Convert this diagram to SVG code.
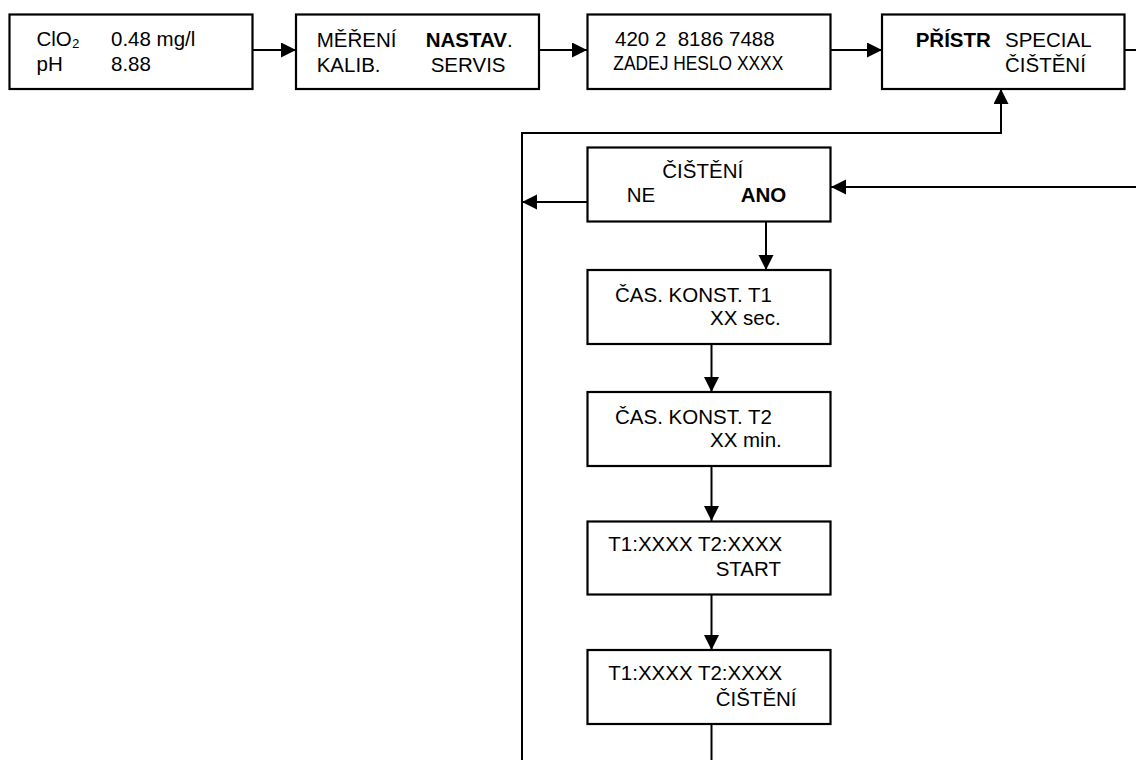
<svg xmlns="http://www.w3.org/2000/svg" width="1136" height="760" viewBox="0 0 1136 760">
<style>
.box{fill:#fff;stroke:#000;stroke-width:2.2}
.ln{fill:none;stroke:#000;stroke-width:2}
text{font-family:"Liberation Sans",Arial,sans-serif;font-size:20.5px;fill:#000}
.b{font-weight:bold}
</style>
<defs>
<marker id="ah" markerUnits="userSpaceOnUse" markerWidth="16" markerHeight="16" refX="15" refY="7.5" orient="auto">
<path d="M0,0 L15,7.5 L0,15 z" fill="#000"/>
</marker>
</defs>
<rect width="1136" height="760" fill="#fff"/>
<g id="connectors">
<line class="ln" x1="252" y1="50" x2="296" y2="50" marker-end="url(#ah)"/>
<line class="ln" x1="539" y1="50" x2="587" y2="50" marker-end="url(#ah)"/>
<line class="ln" x1="830" y1="50" x2="882" y2="50" marker-end="url(#ah)"/>
<line class="ln" x1="1124" y1="50" x2="1136" y2="50"/>
<line class="ln" x1="1136" y1="187" x2="831" y2="187" marker-end="url(#ah)"/>
<line class="ln" x1="587" y1="202" x2="522" y2="202" marker-end="url(#ah)"/>
<polyline class="ln" points="522,760 522,133 1001,133 1001,89" marker-end="url(#ah)"/>
<line class="ln" x1="766" y1="222" x2="766" y2="270" marker-end="url(#ah)"/>
<line class="ln" x1="711.5" y1="344" x2="711.5" y2="392" marker-end="url(#ah)"/>
<line class="ln" x1="711.5" y1="466" x2="711.5" y2="521" marker-end="url(#ah)"/>
<line class="ln" x1="711.5" y1="594" x2="711.5" y2="650" marker-end="url(#ah)"/>
<line class="ln" x1="711.5" y1="724" x2="711.5" y2="760"/>
</g>
<g id="n1">
<rect class="box" x="9.5" y="14.5" width="243" height="74.5"/>
<text x="36.5" y="45.7">ClO₂</text>
<text x="111" y="45.7">0.48 mg/l</text>
<text x="36.5" y="70.7">pH</text>
<text x="111" y="70.7">8.88</text>
</g>
<g id="n2">
<rect class="box" x="296" y="14.5" width="243" height="74.5"/>
<text x="316.7" y="46.5">MĚŘENÍ</text>
<text x="425.7" y="46.5"><tspan class="b">NASTAV</tspan>.</text>
<text x="316.7" y="71.5">KALIB.</text>
<text x="430.7" y="71.5">SERVIS</text>
</g>
<g id="n3">
<rect class="box" x="587.5" y="14.5" width="243" height="74.5"/>
<text x="615" y="46" xml:space="preserve">420 2  8186 7488</text>
<text x="613.3" y="70" font-size="19" textLength="170" lengthAdjust="spacingAndGlyphs">ZADEJ HESLO XXXX</text>
</g>
<g id="n4">
<rect class="box" x="882" y="14.5" width="242.5" height="74.5"/>
<text x="915.7" y="46.5" class="b">PŘÍSTR</text>
<text x="1005" y="46.5">SPECIAL</text>
<text x="1005" y="71.5">ČIŠTĚNÍ</text>
</g>
<g id="n5">
<rect class="box" x="587.5" y="147.5" width="243" height="74"/>
<text x="662.3" y="178.3">ČIŠTĚNÍ</text>
<text x="626.7" y="202.3">NE</text>
<text x="740.7" y="202.3" class="b">ANO</text>
</g>
<g id="n6">
<rect class="box" x="587.5" y="270" width="243" height="74"/>
<text x="615" y="301.7">ČAS. KONST. T1</text>
<text x="710" y="325">XX sec.</text>
</g>
<g id="n7">
<rect class="box" x="587.5" y="392" width="243" height="74"/>
<text x="615" y="423.7">ČAS. KONST. T2</text>
<text x="710" y="447">XX min.</text>
</g>
<g id="n8">
<rect class="box" x="587.5" y="521.5" width="243" height="73"/>
<text x="608.3" y="551">T1:XXXX T2:XXXX</text>
<text x="715.7" y="575.7">START</text>
</g>
<g id="n9">
<rect class="box" x="587.5" y="650" width="243" height="74"/>
<text x="608.3" y="680">T1:XXXX T2:XXXX</text>
<text x="715.7" y="706">ČIŠTĚNÍ</text>
</g>
</svg>
